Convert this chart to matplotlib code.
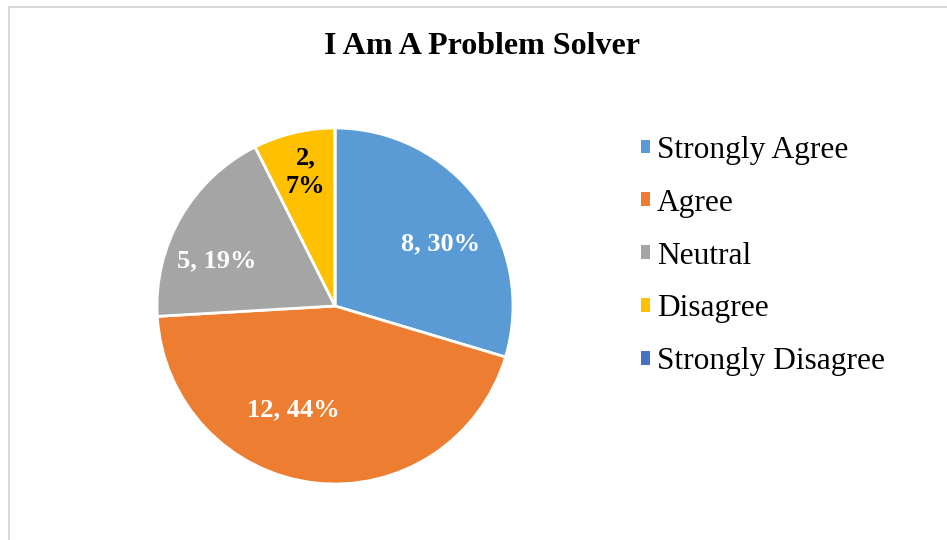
import numpy as np
import matplotlib.pyplot as plt
from matplotlib.patches import Patch, Rectangle

# Survey responses
categories = ['Strongly Agree', 'Agree', 'Neutral', 'Disagree', 'Strongly Disagree']
counts = [8, 12, 5, 2, 0]
colors = ['#5B9BD5', '#ED7D31', '#A5A5A5', '#FFC000', '#4472C4']

# label placement tweaks (angle nudge in degrees, distance as fraction of radius)
label_nudge = [-6, -15, 9, -1, 0]
label_dist = [0.69, 0.63, 0.71, 0.77, 0.7]

plt.rcParams['font.family'] = ['Liberation Serif', 'DejaVu Serif']

W, H = 947, 540
fig = plt.figure(figsize=(W / 100, H / 100), dpi=100)

# light gray chart border (right/bottom edges fall outside the image)
fig.patches.append(Rectangle((8.5 / W, -0.1), 2, 1.1 - 6.5 / H, transform=fig.transFigure,
                             fill=False, edgecolor='#d9d9d9', linewidth=1.5))

# pie axes: centre (335, 306) px, radius 178 px
cx, cy, r = 335, 306, 178
ax = fig.add_axes([(cx - r) / W, (H - cy - r) / H, 2 * r / W, 2 * r / H])

total = sum(counts)

wedges, texts = ax.pie(counts, colors=colors, startangle=90, counterclock=False,
                       wedgeprops=dict(edgecolor='white', linewidth=2))

for w, n, nudge, d in zip(wedges, counts, label_nudge, label_dist):
    if n == 0:
        continue
    pct = 100 * n / total
    label = f'{n},\n{pct:.0f}%' if n == 2 else f'{n}, {pct:.0f}%'
    ang = np.deg2rad((w.theta1 + w.theta2) / 2 + nudge)
    ax.text(d * np.cos(ang), d * np.sin(ang), label, ha='center', va='center',
            fontsize=19, fontweight='bold', linespacing=1.3,
            color='black' if n == 2 else 'white')

ax.set_xlim(-1, 1)
ax.set_ylim(-1, 1)
ax.set_aspect('auto')

fig.text(482 / W, 1 - 47 / H, 'I Am A Problem Solver', ha='center', va='center',
         fontsize=23, fontweight='bold')

handles = [Patch(facecolor=c, edgecolor='none') for c in colors]
fig.legend(handles, categories, loc='center left', bbox_to_anchor=(641 / W, 1 - 256 / H),
           frameon=False, fontsize=22.6, handlelength=0.3, handleheight=0.3,
           handletextpad=0.2, labelspacing=0.76, borderpad=0, borderaxespad=0)

fig.savefig('out.png', dpi=100)
